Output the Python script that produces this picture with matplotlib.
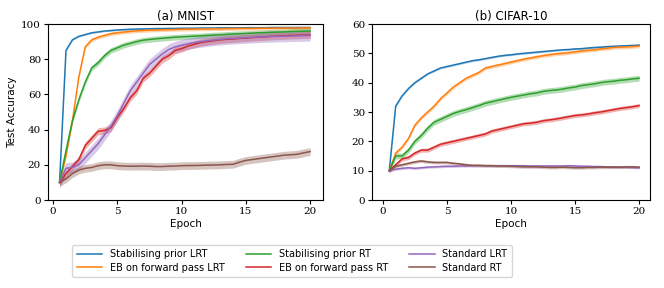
import numpy as np
import matplotlib
matplotlib.use("Agg")
from matplotlib import pyplot as plt

epochs = np.arange(1, 41) / 2.0

labels = ['Stabilising prior LRT', 'EB on forward pass LRT', 'Stabilising prior RT',
          'EB on forward pass RT', 'Standard LRT', 'Standard RT']
colors = ['#1f77b4', '#ff7f0e', '#2ca02c', '#d62728', '#9467bd', '#8c564b']

# MNIST (mean accuracy per half epoch)
mnist_stab_lrt = [10, 85, 91, 93, 94, 95, 95.5, 96, 96.3, 96.6, 96.8, 97, 97.1, 97.2, 97.3, 97.4, 97.4, 97.5, 97.5, 97.6,
                  97.6, 97.6, 97.7, 97.7, 97.7, 97.8, 97.8, 97.8, 97.8, 97.9, 97.9, 97.9, 97.9, 98, 98, 98, 98, 98, 98, 98]
mnist_eb_lrt = [10, 25, 45, 70, 87, 91, 92.5, 93.5, 94.5, 95, 95.4, 95.8, 96.1, 96.3, 96.5, 96.6, 96.7, 96.8, 96.9, 97,
                97.1, 97.1, 97.2, 97.2, 97.3, 97.3, 97.4, 97.4, 97.5, 97.5, 97.5, 97.6, 97.6, 97.6, 97.7, 97.7, 97.7, 97.7, 97.8, 97.8]
mnist_stab_rt = [10, 28, 45, 57, 67, 75, 78, 82, 85, 86.5, 88, 89, 90, 90.8, 91.2, 91.6, 91.9, 92.2, 92.5, 92.7,
                 92.9, 93.1, 93.3, 93.5, 93.7, 93.9, 94.1, 94.3, 94.5, 94.6, 94.8, 95, 95.1, 95.3, 95.4, 95.5, 95.7, 95.8, 95.9, 96]
mnist_eb_rt = [10, 15, 19, 23, 31, 35, 39, 39.5, 41, 47, 52, 58, 62, 69, 72, 76, 80, 82, 85, 86,
               87.5, 88.5, 89.5, 90, 90.5, 91, 91.3, 91.5, 91.8, 92, 92.3, 92.5, 92.7, 93, 93.1, 93.3, 93.5, 93.6, 93.7, 93.8]
mnist_std_lrt = [10, 18, 18.5, 20, 24, 28, 32, 37, 42, 48, 55, 62, 67, 72, 77, 80, 83, 85.5, 87, 88,
                 88.8, 89.5, 90, 90.5, 90.9, 91.3, 91.6, 91.8, 92, 92.2, 92.4, 92.6, 92.8, 92.9, 93, 93.1, 93.2, 93.3, 93.4, 93.5]
mnist_std_rt = [10, 12, 15, 17, 18, 18.5, 19.5, 20, 20, 19.5, 19.3, 19.2, 19.2, 19.3, 19.2, 19, 19, 19.2, 19.3, 19.5,
                19.6, 19.6, 19.7, 19.8, 19.9, 20, 20.2, 20.3, 21.5, 22.5, 23, 23.5, 24, 24.5, 25, 25.5, 25.7, 26, 26.8, 27.5]
mnist_std = [0.4, 1.0, 1.6, 2.0, 3.2, 2.2]

# CIFAR-10
cifar_stab_lrt = [10, 32, 35.5, 38, 40, 41.5, 43, 44, 45, 45.5, 46, 46.5, 47, 47.5, 47.8, 48.2, 48.6, 49, 49.3, 49.5,
                  49.8, 50, 50.2, 50.4, 50.6, 50.8, 51, 51.2, 51.3, 51.5, 51.6, 51.8, 52, 52.1, 52.3, 52.4, 52.5, 52.6, 52.7, 52.8]
cifar_eb_lrt = [10, 16, 18, 21, 25.5, 28, 30, 32, 34.5, 36.5, 38.5, 40, 41.5, 42.5, 43.5, 45, 45.5, 46, 46.5, 47,
                47.5, 48, 48.4, 48.8, 49.2, 49.5, 49.8, 50, 50.2, 50.5, 50.8, 51, 51.2, 51.5, 51.7, 52, 52.1, 52.2, 52.3, 52.5]
cifar_stab_rt = [10, 15, 15, 17, 20, 22, 24.5, 26.5, 27.5, 28.5, 29.5, 30.2, 30.8, 31.5, 32.2, 33, 33.5, 34, 34.5, 35,
                 35.4, 35.8, 36.2, 36.5, 37, 37.3, 37.5, 37.8, 38.2, 38.5, 39, 39.3, 39.6, 40, 40.3, 40.5, 40.8, 41, 41.3, 41.5]
cifar_eb_rt = [10, 12, 14, 14.5, 16, 17, 17, 18, 19, 19.5, 20, 20.5, 21, 21.5, 22, 22.5, 23.5, 24, 24.5, 25,
               25.5, 26, 26.2, 26.5, 27, 27.3, 27.6, 28, 28.4, 28.8, 29, 29.3, 29.7, 30, 30.4, 30.8, 31.2, 31.5, 31.8, 32.2]
cifar_std_lrt = [10, 10.5, 10.8, 11, 10.8, 11, 11.2, 11.3, 11.4, 11.5, 11.5, 11.6, 11.6, 11.7, 11.7, 11.7, 11.7, 11.7, 11.7, 11.7,
                 11.7, 11.7, 11.6, 11.6, 11.6, 11.6, 11.6, 11.6, 11.7, 11.6, 11.5, 11.5, 11.4, 11.4, 11.3, 11.3, 11.2, 11.2, 11.1, 11]
cifar_std_rt = [10, 11.5, 12, 12.5, 13, 13.3, 13, 12.8, 12.8, 12.8, 12.5, 12.3, 12, 11.8, 11.8, 11.7, 11.7, 11.6, 11.6, 11.5,
                11.4, 11.3, 11.3, 11.3, 11.2, 11.1, 11.1, 11.2, 11.1, 11, 11, 11.1, 11.1, 11.2, 11.2, 11.2, 11.2, 11.3, 11.3, 11.2]
cifar_std = [0.3, 0.6, 1.0, 0.7, 0.4, 0.5]

mnist = [mnist_stab_lrt, mnist_eb_lrt, mnist_stab_rt, mnist_eb_rt, mnist_std_lrt, mnist_std_rt]
cifar = [cifar_stab_lrt, cifar_eb_lrt, cifar_stab_rt, cifar_eb_rt, cifar_std_lrt, cifar_std_rt]

plt.rcParams['font.size'] = 8

fig = plt.figure(figsize=(6.64, 2.88), dpi=100)
ax1 = fig.add_axes([48/664, 1 - 200/288, 275/664, 176/288])
ax2 = fig.add_axes([372/664, 1 - 200/288, 278/664, 176/288])

for ax, data, sd, title in [(ax1, mnist, mnist_std, '(a) MNIST'), (ax2, cifar, cifar_std, '(b) CIFAR-10')]:
    for i in range(6):
        y = np.array(data[i])
        ax.plot(epochs, y, color=colors[i], lw=1.1, label=labels[i])
        ax.fill_between(epochs, y - sd[i], y + sd[i], color=colors[i], alpha=0.35, lw=0)
    ax.set_title(title, fontsize=8.5, pad=3)
    ax.set_xlabel('Epoch', fontsize=7.5, labelpad=2)
    ax.set_xticks([0, 5, 10, 15, 20])
    ax.tick_params(labelsize=7.5, length=3, pad=2)

ax1.set_xlim(-0.4, 21.0)
ax1.set_ylim(0, 100)
ax1.set_yticks(range(0, 101, 20))
ax1.set_ylabel('Test Accuracy', fontsize=7.5, labelpad=3)
ax2.set_xlim(-0.85, 20.85)
ax2.set_ylim(0, 60)
ax2.set_yticks(range(0, 61, 10))
for lab in ax1.get_xticklabels() + ax1.get_yticklabels() + ax2.get_xticklabels() + ax2.get_yticklabels():
    lab.set_family('DejaVu Serif')

h, l = ax1.get_legend_handles_labels()
fig.legend(h, l, ncol=3, loc='center', bbox_to_anchor=(292/664, 1 - 261/288),
           fontsize=7, frameon=True, handlelength=2.6, columnspacing=2.2, borderpad=0.45, labelspacing=0.35)

fig.savefig('out.png', dpi=100)
